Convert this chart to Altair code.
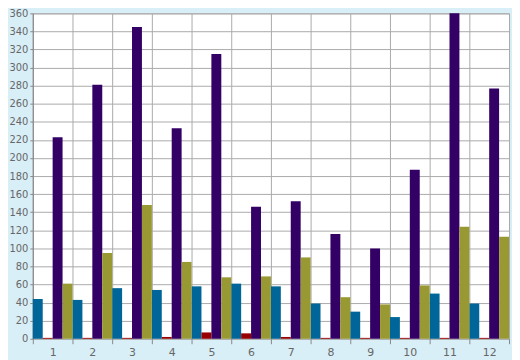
import altair as alt
import pandas as pd

categories = [str(i) for i in range(1, 13)]
series = ["S1", "S2", "S3", "S4"]
colors = ["#006699", "#990000", "#330066", "#999933"]
blue = [44, 43, 56, 54, 58, 61, 58, 39, 30, 24, 50, 39]
red = [1, 1, 1, 2, 7, 6, 2, 1, 1, 1, 1, 1]
purple = [223, 281, 345, 233, 315, 146, 152, 116, 100, 187, 360, 277]
olive = [61, 95, 148, 85, 68, 69, 90, 46, 38, 59, 124, 113]
y_ticks = list(range(0, 361, 20))

rows = []
for s, vals in zip(series, [blue, red, purple, olive]):
    for c, v in zip(categories, vals):
        rows.append({"cat": c, "series": s, "value": v})
df = pd.DataFrame(rows)

font = "DejaVu Sans"
chart = alt.Chart(df).mark_bar().encode(
    x=alt.X("cat:N", sort=categories,
            scale=alt.Scale(paddingInner=0, paddingOuter=0),
            axis=alt.Axis(title=None, labelAngle=0, tickBand="extent", grid=True,
                          gridColor="#aaaaaa", gridWidth=1, tickColor="#888888",
                          tickSize=5, domain=False, labelColor="#666666",
                          labelFont=font, labelFontSize=11, labelPadding=3)),
    xOffset=alt.XOffset("series:N", sort=series,
                        scale=alt.Scale(paddingInner=0, paddingOuter=0)),
    y=alt.Y("value:Q", scale=alt.Scale(domain=[0, 360], nice=False),
            axis=alt.Axis(title=None, values=y_ticks, grid=True, gridColor="#aaaaaa",
                          gridWidth=1, tickColor="#888888", tickSize=3,
                          domainColor="#888888", labelColor="#666666",
                          labelFont=font, labelFontSize=10, labelPadding=2)),
    color=alt.Color("series:N", scale=alt.Scale(domain=series, range=colors), legend=None),
).properties(
    width=480, height=328, background="#d9eff7",
    padding={"left": 25, "top": 4, "right": 3, "bottom": 20},
    autosize="none",
).configure_view(fill="white", stroke="#aaaaaa")

chart.save("out.html", embed_options={"renderer": "svg", "actions": False})
